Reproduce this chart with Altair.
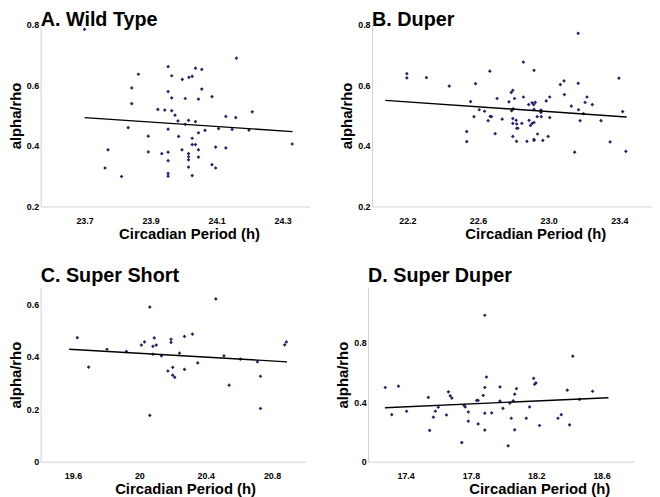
import altair as alt
import pandas as pd

FONT = "Liberation Sans"
NAVY = "#24246a"

# ---------------- Panel A: Wild Type ----------------
a_x = [23.70, 24.16, 23.953, 24.036, 24.055, 23.863, 23.964, 24.016, 24.026, 23.996,
       23.843, 24.055, 23.953, 23.964, 24.005, 24.045, 24.086, 23.843, 23.922, 23.943,
       23.964, 23.974, 23.983, 24.015, 24.005, 24.036, 24.128, 24.158, 24.208, 23.832,
       23.953, 24.065, 24.106, 24.147, 24.198, 23.893, 23.985, 24.026, 24.045, 24.026,
       24.036, 24.097, 24.128, 24.329, 23.771, 23.995, 24.045, 23.893, 23.934, 23.953,
       24.015, 24.015, 24.045, 24.015, 23.953, 24.086, 24.015, 24.097, 23.762, 23.953,
       23.953, 24.026, 23.812]
a_y = [0.784, 0.689, 0.661, 0.656, 0.652, 0.636, 0.631, 0.626, 0.629, 0.619,
       0.591, 0.587, 0.579, 0.558, 0.556, 0.554, 0.562, 0.539, 0.520, 0.518,
       0.516, 0.501, 0.482, 0.484, 0.471, 0.480, 0.497, 0.493, 0.512, 0.460,
       0.455, 0.451, 0.457, 0.454, 0.452, 0.432, 0.431, 0.425, 0.443, 0.404,
       0.404, 0.396, 0.393, 0.406, 0.387, 0.387, 0.387, 0.380, 0.374, 0.379,
       0.374, 0.364, 0.363, 0.354, 0.351, 0.338, 0.330, 0.327, 0.327, 0.309,
       0.300, 0.302, 0.299]
a_fit_x = [23.70, 24.33]
a_fit_y = [0.493, 0.447]

# ---------------- Panel B: Duper ----------------
b_x = [22.197, 22.197, 22.308, 22.437, 23.167, 22.857, 22.667, 22.917, 22.586, 23.087,
       23.066, 23.167, 22.797, 22.788, 23.089, 23.217, 22.857, 22.708, 22.807, 23.006,
       22.986, 23.206, 22.558, 22.775, 22.906, 22.924, 22.915, 22.887, 23.247, 23.128,
       23.169, 22.790, 22.799, 22.607, 22.637, 22.917, 22.956, 22.956, 23.197, 22.577,
       22.669, 22.676, 22.935, 22.958, 23.006, 22.657, 22.737, 22.797, 22.848, 22.816,
       22.889, 23.178, 23.296, 22.797, 22.819, 22.907, 22.917, 22.897, 22.819, 22.826,
       22.536, 22.697, 22.937, 22.797, 22.997, 22.536, 22.818, 22.877, 22.917, 22.917,
       22.967, 23.147, 23.398, 23.419, 23.348, 23.437]
b_y = [0.638, 0.624, 0.625, 0.597, 0.771, 0.676, 0.646, 0.649, 0.605, 0.614,
       0.602, 0.606, 0.583, 0.576, 0.569, 0.561, 0.561, 0.556, 0.556, 0.561,
       0.548, 0.543, 0.546, 0.545, 0.542, 0.543, 0.536, 0.536, 0.536, 0.531,
       0.519, 0.516, 0.522, 0.519, 0.514, 0.520, 0.518, 0.510, 0.506, 0.496,
       0.497, 0.496, 0.496, 0.496, 0.493, 0.483, 0.488, 0.490, 0.474, 0.484,
       0.484, 0.483, 0.483, 0.474, 0.472, 0.474, 0.477, 0.467, 0.458, 0.458,
       0.447, 0.440, 0.439, 0.431, 0.431, 0.414, 0.415, 0.415, 0.421, 0.418,
       0.418, 0.379, 0.623, 0.513, 0.413, 0.382]
b_fit_x = [22.075, 23.441]
b_fit_y = [0.550, 0.495]

# ---------------- Panel C: Super Short ----------------
c_x = [19.626, 19.694, 19.805, 19.922, 20.012, 20.031, 20.063, 20.082, 20.090, 20.102,
       20.082, 20.133, 20.172, 20.191, 20.191, 20.201, 20.201, 20.213, 20.242, 20.272,
       20.272, 20.320, 20.352, 20.461, 20.510, 20.541, 20.609, 20.711, 20.730, 20.730,
       20.876, 20.886, 20.063]
c_y = [0.473, 0.361, 0.429, 0.420, 0.445, 0.457, 0.590, 0.440, 0.472, 0.445,
       0.410, 0.404, 0.346, 0.467, 0.455, 0.360, 0.330, 0.322, 0.414, 0.478,
       0.352, 0.487, 0.377, 0.621, 0.404, 0.292, 0.391, 0.381, 0.326, 0.203,
       0.446, 0.457, 0.177]
c_fit_x = [19.577, 20.890]
c_fit_y = [0.429, 0.381]

# ---------------- Panel D: Super Duper ----------------
d_x = [17.275, 17.356, 17.315, 17.406, 17.539, 17.547, 17.570, 17.582, 17.600, 17.650,
       17.662, 17.673, 17.683, 17.744, 17.758, 17.765, 17.784, 17.784, 17.835, 17.844,
       17.844, 17.875, 17.885, 17.895, 17.885, 17.885, 17.927, 17.978, 17.978, 17.996,
       18.028, 18.038, 18.047, 18.059, 18.068, 18.068, 18.079, 18.159, 18.139, 18.184,
       18.190, 18.198, 18.220, 17.885, 18.333, 18.353, 18.390, 18.404, 18.424, 18.465,
       18.545]
d_y = [0.500, 0.509, 0.317, 0.340, 0.433, 0.211, 0.300, 0.340, 0.367, 0.315,
       0.471, 0.444, 0.429, 0.129, 0.380, 0.369, 0.335, 0.273, 0.413, 0.413,
       0.255, 0.447, 0.500, 0.571, 0.327, 0.213, 0.329, 0.504, 0.409, 0.360,
       0.107, 0.395, 0.293, 0.411, 0.455, 0.215, 0.493, 0.369, 0.293, 0.562,
       0.522, 0.531, 0.244, 0.987, 0.293, 0.317, 0.482, 0.249, 0.711, 0.420,
       0.475]
d_fit_x = [17.273, 18.642]
d_fit_y = [0.364, 0.431]

x_title = "Circadian Period (h)"
y_title = "alpha/rho"


def panel(px, py, fx, fy, title, xdom, ydom, w, h, xticks, yticks, xfmt, yfmt,
          xtitle_x, title_offset):
    pts = pd.DataFrame({"x": px, "y": py})
    fit = pd.DataFrame({"x": fx, "y": fy})
    xaxis = alt.Axis(values=xticks, format=xfmt, grid=False, ticks=False,
                     domainColor="#cfcfcf", domainWidth=1, labelOverlap=False,
                     labelFont=FONT, labelFontWeight="bold", labelFontSize=9,
                     labelColor="black", labelPadding=10,
                     title=x_title, titleFont=FONT, titleFontSize=15,
                     titleFontWeight="bold", titleColor="black", titlePadding=1,
                     titleX=xtitle_x)
    yaxis = alt.Axis(values=yticks, format=yfmt, grid=False, ticks=False,
                     domainColor="#cfcfcf", domainWidth=1, labelOverlap=False,
                     labelFont=FONT, labelFontWeight="bold", labelFontSize=9,
                     labelColor="black", labelPadding=2,
                     title=y_title, titleFont=FONT, titleFontSize=15,
                     titleFontWeight="bold", titleColor="black", titlePadding=3)
    xs = alt.Scale(domain=xdom, nice=False, zero=False)
    ys = alt.Scale(domain=ydom, nice=False, zero=False)
    p = alt.Chart(pts).mark_point(filled=True, shape="diamond", size=14,
                                  color=NAVY, opacity=1).encode(
        x=alt.X("x:Q", scale=xs, axis=xaxis),
        y=alt.Y("y:Q", scale=ys, axis=yaxis),
    )
    l = alt.Chart(fit).mark_line(color="black", strokeWidth=1.4).encode(
        x="x:Q", y="y:Q"
    )
    return alt.layer(p, l).properties(
        width=w, height=h,
        title=alt.TitleParams(text=title, anchor="start", frame="group",
                              font=FONT, fontSize=20, fontWeight="bold",
                              color="black", offset=title_offset),
    )


A = panel(a_x, a_y, a_fit_x, a_fit_y, "A. Wild Type", [23.567, 24.382], [0.2, 0.8],
          272, 184, [23.7, 23.9, 24.1, 24.3], [0.2, 0.4, 0.6, 0.8], ".1f", ".1f",
          150, -10)
B = panel(b_x, b_y, b_fit_x, b_fit_y, "B. Duper", [22.0, 23.585], [0.2, 0.8],
          283, 184, [22.2, 22.6, 23.0, 23.4], [0.2, 0.4, 0.6, 0.8], ".1f", ".1f",
          165, -10)
C = panel(c_x, c_y, c_fit_x, c_fit_y, "C. Super Short", [19.405, 21.003], [0, 0.664],
          268, 176, [19.6, 20.0, 20.4, 20.8], [0, 0.2, 0.4, 0.6], ".1~f", ".1~f",
          146, 2)
D = panel(d_x, d_y, d_fit_x, d_fit_y, "D. Super Duper", [17.17, 18.80], [0, 1.173],
          269, 176, [17.4, 17.8, 18.2, 18.6], [0, 0.4, 0.8], ".1~f", ".1~f",
          173, 2)

row1 = alt.hconcat(A, B, spacing=30)
row2 = alt.hconcat(C, D, spacing=30)
chart = alt.vconcat(row1, row2, spacing=25).properties(
    padding=0, background="white"
).configure_view(stroke=None)

chart.save("out.html", embed_options={"renderer": "svg", "actions": False})
